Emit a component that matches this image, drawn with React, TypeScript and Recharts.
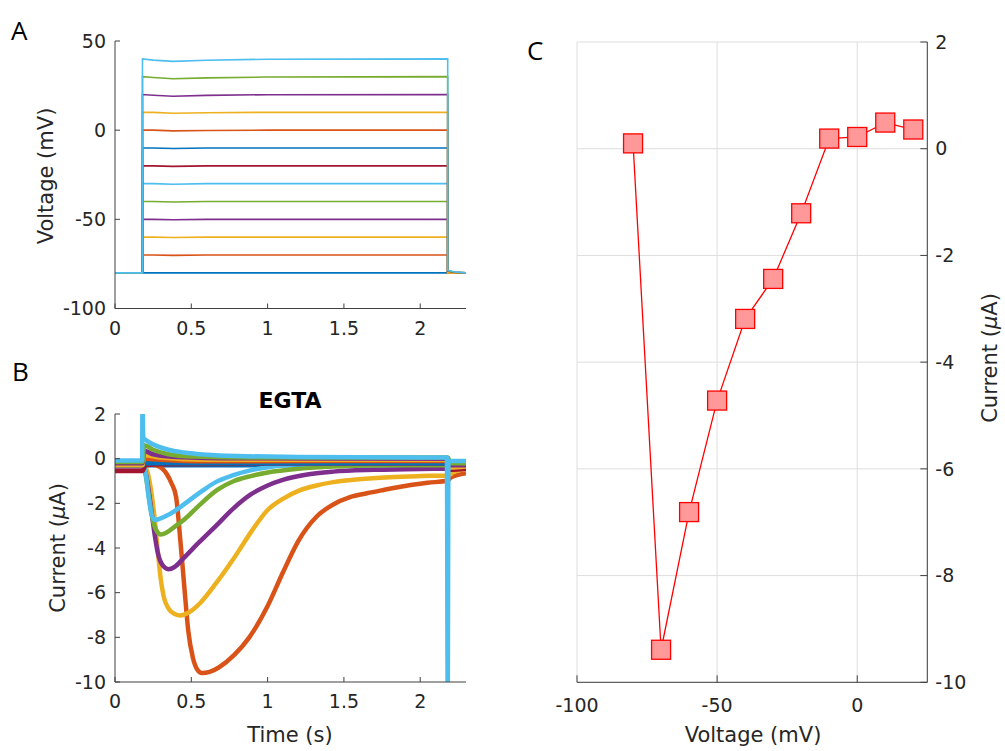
import { LineChart, Line, XAxis, YAxis, CartesianGrid } from 'recharts'

// MATLAB default colour order
const blue = '#0072BD'
const orange = '#D95319'
const yellow = '#EDB120'
const purple = '#7E2F8E'
const green = '#77AC30'
const cyan = '#4DBEEE'
const darkRed = '#A2142F'

const stepColors = [blue, orange, yellow, purple, green, cyan, darkRed, blue, orange, yellow, purple, green, cyan]
const stepLevels = [-80, -70, -60, -50, -40, -30, -20, -10, 0, 10, 20, 30, 40]

// panel A: command voltage traces (mV), sampled at these times (s)
const vTime = [0, 0.18, 0.18, 0.25, 0.38, 0.6, 1.0, 2.18, 2.18, 2.22, 2.3]
const vTraces = [
  [-80, -80, -80, -80, -80, -80, -80, -80, -80, -80, -80],
  [-80, -80, -70, -70, -70.2, -70, -70, -70, -80, -80, -80],
  [-80, -80, -60, -60, -60.2, -60, -60, -60, -80, -80, -80],
  [-80, -80, -50, -50, -50.2, -50, -50, -50, -80, -80, -80],
  [-80, -80, -40, -40, -40.3, -40, -40, -40, -80, -80, -80],
  [-80, -80, -30, -30, -30.3, -30, -30, -30, -80, -80, -80],
  [-80, -80, -20, -20, -20.3, -20, -20, -20, -80, -80, -80],
  [-80, -80, -10, -10, -10.3, -10, -10, -10, -80, -80, -80],
  [-80, -80, 0, 0, -0.4, -0.2, 0, 0, -80, -80, -80],
  [-80, -80, 10, 10, 9.5, 9.8, 10, 10, -80, -80, -80],
  [-80, -80, 20, 19.6, 19.0, 19.5, 19.9, 20, -79, -79.6, -80],
  [-80, -80, 30, 29.5, 28.8, 29.3, 29.8, 30, -78.8, -79.5, -80],
  [-80, -80, 40, 39.3, 38.6, 39.2, 39.8, 40, -78.5, -79.4, -80],
]

// panel B: membrane current traces [time s, current uA], same order as stepLevels
const iTraces: number[][][] = [
  [[0, -0.3], [0.18, -0.3], [1, -0.3], [2.3, -0.3]],
  [[0, -0.3], [0.18, -0.25], [0.22, -0.25], [0.27, -0.3], [0.31, -0.45], [0.34, -0.7], [0.37, -1.1], [0.4, -1.7], [0.43, -3.8], [0.455, -5.8], [0.48, -7.7], [0.51, -8.9], [0.54, -9.45], [0.57, -9.6], [0.62, -9.55], [0.68, -9.35], [0.78, -8.8], [0.88, -8.0], [1.0, -6.6], [1.1, -5.1], [1.2, -3.7], [1.32, -2.6], [1.43, -2.05], [1.54, -1.72], [1.65, -1.55], [1.76, -1.4], [1.9, -1.22], [2.05, -1.08], [2.18, -0.98], [2.2, -0.85], [2.3, -0.65]],
  [[0, -0.32], [0.18, -0.3], [0.2, -0.4], [0.22, -0.8], [0.24, -1.6], [0.26, -2.7], [0.28, -4.1], [0.3, -5.4], [0.32, -6.2], [0.35, -6.7], [0.39, -6.95], [0.43, -7.02], [0.48, -6.9], [0.56, -6.45], [0.66, -5.6], [0.78, -4.45], [0.9, -3.2], [1.0, -2.3], [1.1, -1.8], [1.21, -1.42], [1.32, -1.2], [1.43, -1.05], [1.6, -0.92], [1.8, -0.83], [2.0, -0.78], [2.18, -0.75], [2.22, -0.6], [2.3, -0.45]],
  [[0, -0.35], [0.18, -0.35], [0.2, -0.6], [0.22, -1.4], [0.24, -2.4], [0.26, -3.4], [0.28, -4.2], [0.31, -4.75], [0.35, -4.95], [0.39, -4.85], [0.45, -4.45], [0.55, -3.75], [0.67, -2.95], [0.78, -2.2], [0.89, -1.6], [1.0, -1.2], [1.1, -0.95], [1.25, -0.72], [1.43, -0.58], [1.7, -0.5], [2.0, -0.46], [2.18, -0.45], [2.3, -0.4]],
  [[0, -0.3], [0.18, -0.3], [0.2, -0.7], [0.22, -1.6], [0.24, -2.5], [0.27, -3.2], [0.3, -3.4], [0.34, -3.3], [0.4, -3.0], [0.45, -2.75], [0.55, -2.1], [0.67, -1.4], [0.78, -1.0], [0.89, -0.78], [1.0, -0.62], [1.2, -0.45], [1.43, -0.35], [1.8, -0.3], [2.18, -0.3], [2.3, -0.28]],
  [[0, -0.25], [0.18, -0.25], [0.2, -0.6], [0.22, -1.7], [0.24, -2.5], [0.26, -2.75], [0.29, -2.7], [0.34, -2.55], [0.4, -2.3], [0.48, -1.9], [0.56, -1.5], [0.66, -1.05], [0.77, -0.75], [0.9, -0.5], [1.0, -0.38], [1.2, -0.25], [1.5, -0.2], [2.18, -0.2], [2.3, -0.2]],
  [[0, -0.55], [0.18, -0.55], [0.2, -0.3], [0.3, -0.25], [1.0, -0.22], [2.18, -0.22], [2.2, -0.5], [2.3, -0.45]],
  [[0, -0.3], [0.18, -0.3], [0.2, -0.2], [0.4, -0.2], [2.18, -0.2], [2.2, -0.3], [2.3, -0.3]],
  [[0, -0.25], [0.18, -0.25], [0.19, 0.0], [0.3, -0.05], [0.6, -0.12], [2.18, -0.1], [2.2, -0.3], [2.3, -0.3]],
  [[0, -0.3], [0.18, -0.3], [0.19, 0.15], [0.3, 0.05], [0.6, -0.05], [2.18, -0.05], [2.2, -0.4], [2.3, -0.35]],
  [[0, -0.2], [0.18, -0.2], [0.19, 0.35], [0.25, 0.2], [0.4, 0.08], [0.8, 0.02], [2.18, 0.0], [2.2, -0.3], [2.3, -0.3]],
  [[0, -0.15], [0.18, -0.15], [0.19, 0.6], [0.25, 0.4], [0.35, 0.2], [0.5, 0.1], [1.0, 0.05], [2.18, 0.05], [2.2, -0.2], [2.3, -0.2]],
  [[0, -0.08], [0.178, -0.08], [0.18, 3], [0.185, 0.95], [0.22, 0.75], [0.28, 0.55], [0.35, 0.4], [0.45, 0.28], [0.6, 0.18], [0.8, 0.12], [1.2, 0.08], [2.0, 0.05], [2.175, 0.05], [2.18, -11], [2.185, -0.1], [2.3, -0.1]],
]

// panel C: peak current vs step voltage
const ivVoltage = [-80, -70, -60, -50, -40, -30, -20, -10, 0, 10, 20]
const ivCurrent = [0.1, -9.39, -6.81, -4.72, -3.19, -2.44, -1.21, 0.19, 0.22, 0.49, 0.36]

const timeTicks = [0, 0.5, 1, 1.5, 2]
const voltTicks = [-100, -50, 0, 50]
const curTicksB = [-10, -8, -6, -4, -2, 0, 2]
const ivXTicks = [-100, -50, 0]
const ivYTicks = [-10, -8, -6, -4, -2, 0, 2]

const font = '"DejaVu Sans", sans-serif'
const ink = '#262626'
const axisStroke = '#404040'
const tickStyle = { fill: ink, fontSize: 19, fontFamily: font }

const voltData = vTraces.map((tr) => tr.map((v, i) => ({ t: vTime[i], v })))
const curData = iTraces.map((tr) => tr.map(([t, v]) => ({ t, v })))
const ivData = ivVoltage.map((v, i) => ({ v, i: ivCurrent[i] }))

function SquareDot(props: any) {
  const { cx, cy } = props
  if (cx == null || cy == null) return null
  return <rect x={cx - 9.5} y={cy - 9.5} width={19} height={19} fill="#FF9999" stroke="#FF0000" strokeWidth={1.3} />
}

function PanelA() {
  return (
    <LineChart width={480} height={345} margin={{ top: 41, left: 114, right: 14, bottom: 35.5 }}>
      <XAxis dataKey="t" type="number" domain={[0, 2.3]} ticks={timeTicks} interval={0} height={1}
        tick={tickStyle} tickSize={-5} tickMargin={18} stroke={axisStroke} allowDataOverflow />
      <YAxis type="number" domain={[-100, 50]} ticks={voltTicks} interval={0} width={1}
        tick={tickStyle} tickSize={-5} tickMargin={14} stroke={axisStroke} allowDataOverflow />
      {voltData.map((d, k) => (
        <Line key={k} data={d} dataKey="v" type="linear" stroke={stepColors[k]} strokeWidth={1.6}
          dot={false} isAnimationActive={false} />
      ))}
    </LineChart>
  )
}

function PanelB() {
  return (
    <LineChart width={480} height={340} margin={{ top: 34, left: 114, right: 14, bottom: 37 }}>
      <XAxis dataKey="t" type="number" domain={[0, 2.3]} ticks={timeTicks} interval={0} height={1}
        tick={tickStyle} tickSize={-5} tickMargin={18} stroke={axisStroke} allowDataOverflow />
      <YAxis type="number" domain={[-10, 2]} ticks={curTicksB} interval={0} width={1}
        tick={tickStyle} tickSize={-5} tickMargin={14} stroke={axisStroke} allowDataOverflow />
      {curData.map((d, k) => (
        <Line key={k} data={d} dataKey="v" type="monotone" stroke={stepColors[k]} strokeWidth={4.5}
          strokeLinejoin="round" dot={false} isAnimationActive={false} />
      ))}
    </LineChart>
  )
}

function PanelC() {
  return (
    <LineChart width={465} height={751} data={ivData} margin={{ top: 42, left: 37, right: 76.7, bottom: 67.7 }}>
      <CartesianGrid stroke="#dedede" strokeWidth={1} />
      <XAxis dataKey="v" type="number" domain={[-100, 25]} ticks={ivXTicks} interval={0} height={1}
        tick={tickStyle} tickSize={-7} tickMargin={23} stroke={axisStroke} allowDataOverflow />
      <YAxis orientation="right" type="number" domain={[-10, 2]} ticks={ivYTicks} interval={0} width={1}
        tick={{ ...tickStyle, textAnchor: 'start' }} tickSize={-7} tickMargin={15} stroke={axisStroke} allowDataOverflow />
      <Line dataKey="i" type="linear" stroke="#FF0000" strokeWidth={1.3} dot={<SquareDot />}
        isAnimationActive={false} />
    </LineChart>
  )
}

export default function App() {
  const title = { fontFamily: font, fontSize: 21, fill: ink }
  const letter = { fontFamily: '"Open Sans", sans-serif', fontSize: 26, fill: '#000' }
  return (
    <div style={{ position: 'absolute', left: 0, top: 0, width: 1005, height: 751, background: '#fff' }}>
      <div style={{ position: 'absolute', left: 0, top: 0 }}><PanelA /></div>
      <div style={{ position: 'absolute', left: 0, top: 380 }}><PanelB /></div>
      <div style={{ position: 'absolute', left: 540, top: 0 }}><PanelC /></div>
      <svg width={1005} height={751} style={{ position: 'absolute', left: 0, top: 0, pointerEvents: 'none' }}>
        <text x={11} y={40} {...letter}>A</text>
        <text x={12} y={381} {...letter}>B</text>
        <text x={527} y={60} {...letter}>C</text>
        <text x={290} y={408} textAnchor="middle" fontFamily={font} fontSize={22} fontWeight="bold" fill="#000">EGTA</text>
        <text x={290} y={742} textAnchor="middle" {...title}>Time (s)</text>
        <text x={753} y={742} textAnchor="middle" {...title}>Voltage (mV)</text>
        <text transform="translate(53,176) rotate(-90)" textAnchor="middle" {...title}>Voltage (mV)</text>
        <text transform="translate(65,548) rotate(-90)" textAnchor="middle" {...title}>
          Current (<tspan fontStyle="italic">μ</tspan>A)
        </text>
        <text transform="translate(997,358) rotate(-90)" textAnchor="middle" {...title}>
          Current (<tspan fontStyle="italic">μ</tspan>A)
        </text>
      </svg>
    </div>
  )
}
